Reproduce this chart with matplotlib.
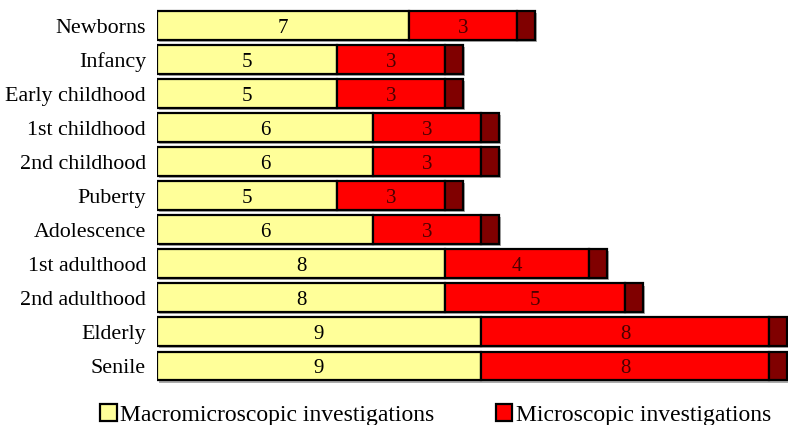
import matplotlib
matplotlib.use("Agg")
import matplotlib.pyplot as plt
from matplotlib.patches import Patch
import matplotlib.patheffects as pe

categories = ["Newborns", "Infancy", "Early childhood", "1st childhood", "2nd childhood",
              "Puberty", "Adolescence", "1st adulthood", "2nd adulthood", "Elderly", "Senile"]
macro = [7, 5, 5, 6, 6, 5, 6, 8, 8, 9, 9]
micro = [3, 3, 3, 3, 3, 3, 3, 4, 5, 8, 8]
other = [0.5] * 11
series_names = ["Macromicroscopic investigations", "Microscopic investigations", "Other investigations"]
colors = ["#FFFF99", "#FF0000", "#800000"]

plt.rcParams['font.family'] = ['Liberation Serif', 'DejaVu Serif']

fig = plt.figure(figsize=(7.88, 4.25), dpi=100)
ax = fig.add_axes([157/788, 1 - 383/425, 1 - 157/788, (383 - 8.5)/425])

y = list(range(len(categories)))
shadow = [pe.SimplePatchShadow(offset=(1.5, -1.5), shadow_rgbFace='#888888', alpha=0.7), pe.Normal()]
left = [0] * len(categories)
for vals, col in zip([macro, micro, other], colors):
    bars = ax.barh(y, vals, left=left, height=0.85, color=col, edgecolor='black', linewidth=1.6)
    for b in bars:
        b.set_path_effects(shadow)
    left = [l + v for l, v in zip(left, vals)]

for i in y:
    ax.text(macro[i] / 2, i, str(macro[i]), ha='center', va='center_baseline', fontsize=15, color='black')
    ax.text(macro[i] + micro[i] / 2, i, str(micro[i]), ha='center', va='center_baseline', fontsize=15, color='#4a0000')

ax.set_xlim(0, 631 / 36.0)
ax.set_ylim(len(categories) - 0.5, -0.5)
ax.set_yticks(y)
ax.set_yticklabels(categories, fontsize=15.8)
ax.tick_params(axis='y', length=0, pad=8)
ax.set_xticks([])
for s in ax.spines.values():
    s.set_visible(False)

handles = [Patch(facecolor=colors[0], edgecolor='black', linewidth=1.6),
           Patch(facecolor=colors[1], edgecolor='black', linewidth=1.6)]
fig.legend(handles, series_names[:2], loc='center', bbox_to_anchor=(0.553, 1 - 415/425),
           ncol=2, frameon=False, fontsize=17, handlelength=0.7, handleheight=0.7,
           handletextpad=0.15, columnspacing=2.6)

fig.savefig("out.png", dpi=100)
